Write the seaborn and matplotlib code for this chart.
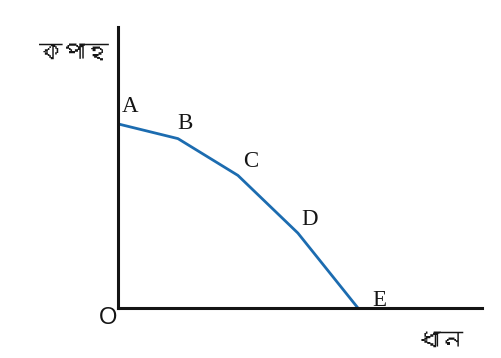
import matplotlib
matplotlib.use("Agg")
import matplotlib.pyplot as plt
from matplotlib import font_manager
from matplotlib.ft2font import FT2Font
import seaborn as sns
import pandas as pd

# production possibility schedule
points = ["A", "B", "C", "D", "E"]
paddy = [0, 1, 2, 3, 4]          # ধান
cotton = [15, 13.8, 10.8, 6.1, 0]  # কপাহ

y_label = "কপাহ"
x_label = "ধান"


def bengali_family():
    # look for any installed font that can draw Bengali script
    for f in font_manager.fontManager.ttflist:
        try:
            if 0x0995 in FT2Font(f.fname).get_charmap():
                return f.name
        except Exception:
            continue
    return None


sns.set_theme(style="white")
bn = bengali_family()
plt.rcParams['font.family'] = ['DejaVu Sans']
bn_family = [bn, 'DejaVu Sans'] if bn else ['DejaVu Sans']

df = pd.DataFrame({"paddy": paddy, "cotton": cotton, "point": points})

fig = plt.figure(figsize=(5.01, 3.58), dpi=100)
ax = fig.add_axes([0.2355, 0.14, 0.7265, 0.785])

sns.lineplot(data=df, x="paddy", y="cotton", ax=ax, color="#1c6cb0",
             linewidth=2.0, sort=False)

ax.set_xlim(0, 6.07)
ax.set_ylim(0, 15 * 278 / 182)
for s in ["top", "right"]:
    ax.spines[s].set_visible(False)
for s in ["left", "bottom"]:
    ax.spines[s].set_color("#141414")
    ax.spines[s].set_linewidth(2.2)
ax.set_xticks([])
ax.set_yticks([])
ax.set_xlabel("")
ax.set_ylabel("")

# point labels
offsets = {"A": (0.2, 1.4), "B": (0.12, 1.2), "C": (0.22, 1.15),
           "D": (0.19, 1.1), "E": (0.36, 0.6)}
for p, x, y in zip(points, paddy, cotton):
    dx, dy = offsets[p]
    ax.text(x + dx, y + dy, p, fontsize=16.5, family="Liberation Serif",
            ha="center", va="center", color="#151515")

ax.text(-0.17, -0.8, "O", fontsize=17, family="Liberation Sans",
        ha="center", va="center", color="#151515", clip_on=False)
ax.text(-0.73, 20.8, y_label, fontsize=17, family=bn_family,
        ha="center", va="center", color="#151515", clip_on=False)
ax.text(5.37, -2.7, x_label, fontsize=17, family=bn_family,
        ha="center", va="center", color="#151515", clip_on=False)

fig.savefig("out.png", dpi=100, facecolor="white")
